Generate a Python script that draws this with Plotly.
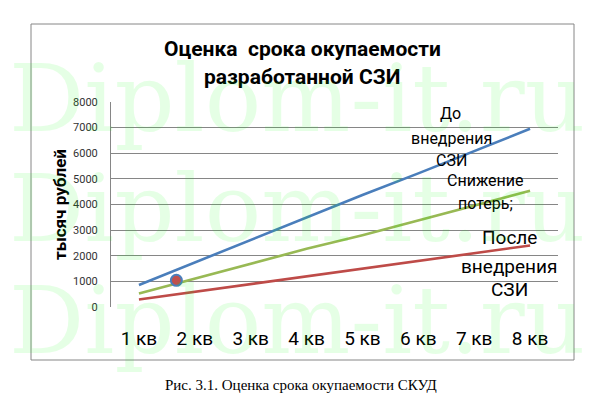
import plotly.graph_objects as go

# ---- data ----
quarters = [1, 2, 3, 4, 5, 6, 7, 8]
quarter_labels = ["1 кв", "2 кв", "3 кв", "4 кв", "5 кв", "6 кв", "7 кв", "8 кв"]
before_szi = [860, 1740, 2615, 3505, 4370, 5215, 6080, 6955]
loss_reduction = [525, 1105, 1690, 2270, 2800, 3375, 3955, 4535]
after_szi = [290, 590, 900, 1200, 1500, 1790, 2090, 2400]
payback_x = [1.67]
payback_y = [1040]
y_ticks = [0, 1000, 2000, 3000, 4000, 5000, 6000, 7000, 8000]

# page body has an 8px margin: figure drawn at (8, 8)
OFF = 8
W, H = 600 - OFF, 415 - OFF
L, T = 111 - OFF, 102 - OFF
PLOT_BOTTOM, PLOT_RIGHT = 307 - OFF, 558 - OFF
B, R = H - PLOT_BOTTOM, W - PLOT_RIGHT
PW, PH = W - L - R, H - T - B


def px(x):
    return (x - OFF - L) / PW


def py(y):
    return (PLOT_BOTTOM - (y - OFF)) / PH


BLUE = "#4A7EBB"
GREEN = "#98B954"
RED = "#BE4B48"
FONT = "Roboto"

fig = go.Figure()
fig.add_trace(go.Scatter(x=quarters, y=before_szi, mode="lines",
                         line=dict(color=BLUE, width=2.6), name="До внедрения СЗИ"))
fig.add_trace(go.Scatter(x=quarters, y=loss_reduction, mode="lines",
                         line=dict(color=GREEN, width=2.6), name="Снижение потерь"))
fig.add_trace(go.Scatter(x=quarters, y=after_szi, mode="lines",
                         line=dict(color=RED, width=2.6), name="После внедрения СЗИ"))
fig.add_trace(go.Scatter(x=payback_x, y=payback_y, mode="markers",
                         marker=dict(color="#C0504D", size=11,
                                     line=dict(color=BLUE, width=2)),
                         name="Окупаемость"))


def note(text, x, y, size, family=FONT, angle=0, color="black", xanchor="center"):
    return dict(text=text, x=px(x), y=py(y), xref="paper", yref="paper",
                xanchor=xanchor, yanchor="middle", showarrow=False, textangle=angle,
                font=dict(family=family, size=size, color=color))


ann = []
ann.append(note("<b>Оценка  срока окупаемости</b>", 302, 49, 21))
ann.append(note("<b>разработанной СЗИ</b>", 302, 77, 21))
ann.append(note("<b>тысяч рублей</b>", 60, 205, 17, angle=-90))
ann.append(note("Рис. 3.1. Оценка срока окупаемости СКУД", 301, 385, 15,
                family="Liberation Serif"))
labels = [
    ("До", 450, 113, 16), ("внедрения", 451, 138, 16), ("СЗИ", 451, 160, 16),
    ("Снижение", 485, 180, 16), ("потерь;", 485, 203, 16),
    ("После", 509, 238, 19), ("внедрения", 509, 266, 19), ("СЗИ", 509, 289, 19),
]
for t, x, y, s in labels:
    ann.append(note(t, x, y, s))
# watermark (on top, translucent)
for yc in [98, 208, 320]:
    ann.append(note("Diplom-it.ru", 7, yc, 94, family="DejaVu Serif",
                    color="rgba(0,255,0,0.10)", xanchor="left"))

fig.update_layout(
    width=W, height=H,
    margin=dict(l=L, r=R, t=T, b=B, autoexpand=False),
    paper_bgcolor="white", plot_bgcolor="white",
    showlegend=False,
    annotations=ann,
    shapes=[dict(type="rect", xref="paper", yref="paper",
                 x0=px(31), x1=px(574), y0=py(360), y1=py(24),
                 line=dict(color="#868686", width=1), layer="below")],
)
fig.update_xaxes(range=[0.5, 8.5], tickvals=quarters, ticktext=quarter_labels,
                 showgrid=False, zeroline=False, showline=False,
                 ticks="outside", ticklen=14, tickcolor="rgba(0,0,0,0)",
                 tickfont=dict(family=FONT, size=19, color="black"))
fig.update_yaxes(range=[0, 8000], tickvals=y_ticks, showgrid=True,
                 gridcolor="#868686", gridwidth=1, zeroline=False,
                 showline=True, linecolor="#868686", linewidth=1,
                 ticks="outside", ticklen=10, tickcolor="rgba(0,0,0,0)",
                 tickfont=dict(family=FONT, size=11, color="#333333"))

fig.write_html("out.html")
